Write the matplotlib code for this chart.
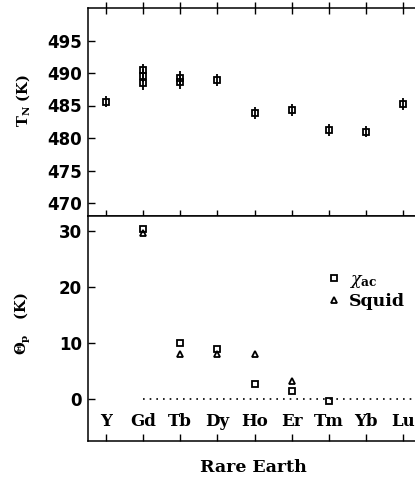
import matplotlib
matplotlib.use("Agg")
import matplotlib.pyplot as plt

# ---- data ----
elements = ["Y", "Gd", "Tb", "Dy", "Ho", "Er", "Tm", "Yb", "Lu"]

tn_elem = ["Y", "Gd", "Gd", "Gd", "Tb", "Tb", "Dy", "Ho", "Er", "Tm", "Yb", "Lu"]
tn_val = [485.6, 490.4, 489.6, 488.4, 489.3, 488.6, 488.9, 483.8, 484.3, 481.2, 481.0, 485.2]
tn_err = [0.9, 1.0, 1.0, 1.0, 1.0, 1.0, 0.9, 0.9, 0.9, 0.9, 0.9, 0.9]

chi_elem = ["Gd", "Tb", "Dy", "Ho", "Er", "Tm"]
chi_val = [30.4, 10.0, 8.9, 2.8, 1.5, -0.3]

squid_elem = ["Gd", "Tb", "Dy", "Ho", "Er"]
squid_val = [29.6, 8.1, 8.1, 8.1, 3.3]

top_yticks = [470, 475, 480, 485, 490, 495]
bot_yticks = [0, 10, 20, 30]

pos = {e: i + 1 for i, e in enumerate(elements)}

plt.rcParams["mathtext.fontset"] = "dejavuserif"
num_font = dict(family="DejaVu Sans", weight="bold", size=12)
serif_font = dict(family="DejaVu Serif", weight="bold")

W, H = 415, 478
fig = plt.figure(figsize=(W / 100, H / 100), dpi=100)

L, R = 87.5, 421.5
ax1 = fig.add_axes([L / W, (H - 216) / H, (R - L) / W, 208 / H])
ax2 = fig.add_axes([L / W, (H - 441) / H, (R - L) / W, 225 / H])

for ax in (ax1, ax2):
    for s in ax.spines.values():
        s.set_linewidth(1.1)
    ax.set_xlim(0.5, 9.5)
    ax.set_xticks(range(1, len(elements) + 1))

mk = dict(color="black", markerfacecolor="none", markeredgewidth=1.3, linestyle="none")

# top panel
ax1.errorbar([pos[e] for e in tn_elem], tn_val, yerr=tn_err, fmt="s", markersize=4.0,
             ecolor="black", elinewidth=1.3, capsize=0, **mk)
ax1.set_ylim(468, 500)
ax1.set_yticks(top_yticks)
ax1.tick_params(axis="both", direction="in", length=5, width=1.0, right=True, top=True, pad=4)
ax1.tick_params(axis="x", which="both", bottom=True, labelbottom=False)
ax1.tick_params(axis="x", direction="inout", length=8)
ax1.set_yticklabels([str(v) for v in top_yticks], fontdict=num_font)

# bottom panel
l1, = ax2.plot([pos[e] for e in chi_elem], chi_val, "s", markersize=4.0, **mk)
l2, = ax2.plot([pos[e] for e in squid_elem], squid_val, "^", markersize=5, **mk)
ax2.hlines(0, pos["Gd"], 9.5, colors="black", linestyles=(0, (1, 3)), linewidth=1.2)
ax2.set_ylim(-7.45, 32.7)
ax2.set_yticks(bot_yticks)
ax2.tick_params(axis="both", direction="in", length=5, width=1.0, right=True, top=False, pad=4)
ax2.tick_params(axis="x", labelbottom=False)
ax2.set_yticklabels([str(v) for v in bot_yticks], fontdict=num_font)
for e in elements:
    ax2.text(pos[e], -4.0, e, ha="center", va="center", fontsize=12, **serif_font)

leg = ax2.legend([l1, l2], [r"$\chi_{\mathbf{ac}}$", "Squid"], loc="upper left",
                 bbox_to_anchor=(0.695, 0.785), frameon=False, handlelength=0.8,
                 handletextpad=0.5, labelspacing=0.15, borderaxespad=0,
                 prop=dict(family="DejaVu Serif", weight="bold", size=12.5))

fig.text(23 / W, 1 - 100 / H, r"$\mathbf{T_N}$ (K)", rotation=90, ha="center", va="center",
         fontsize=10.5, **serif_font)
fig.text(23 / W, 1 - 324 / H, r"$\mathbf{\Theta_p}$   (K)", rotation=90, ha="center", va="center",
         fontsize=10.5, **serif_font)
fig.text(253 / W, 1 - 467 / H, "Rare Earth", ha="center", va="center", fontsize=12.5, **serif_font)

fig.savefig("out.png", dpi=100)
